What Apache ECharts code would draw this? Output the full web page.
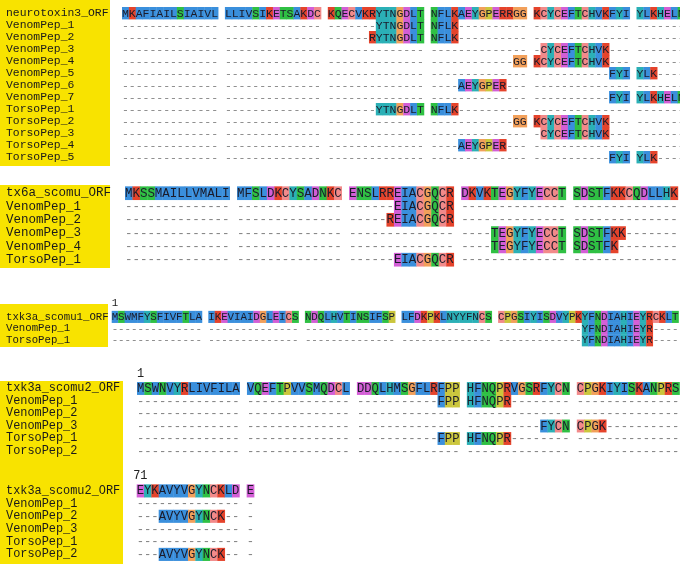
<!DOCTYPE html>
<html>
<head>
<meta charset="utf-8">
<script src="https://cdn.jsdelivr.net/npm/echarts@6/dist/echarts.min.js"></script>
<style>html,body{margin:0;padding:0;background:#fff}#c{width:680px;height:564px}</style>
</head>
<body>
<div id="c"></div>
<script>
// ---------------- DATA ----------------
const b1Names = ['neurotoxin3_ORF','VenomPep_1','VenomPep_2','VenomPep_3','VenomPep_4','VenomPep_5','VenomPep_6','VenomPep_7','TorsoPep_1','TorsoPep_2','TorsoPep_3','TorsoPep_4','TorsoPep_5'];
const b1Rows = [
  'MKAFIAILSIAIVL LLIVSIKETSAKDC KQECVKRYTNGDLT NFLKAEYGPERRGG KCYCEFTCHVKFYI YLKHELN',
  '-------------- -------------- -------YTNGDLT NFLK---------- -------------- -------',
  '-------------- -------------- ------RYTNGDLT NFLK---------- -------------- -------',
  '-------------- -------------- -------------- -------------- -CYCEFTCHVK--- -------',
  '-------------- -------------- -------------- ------------GG KCYCEFTCHVK--- -------',
  '-------------- -------------- -------------- -------------- -----------FYI YLK----',
  '-------------- -------------- -------------- ----AEYGPER--- -------------- -------',
  '-------------- -------------- -------------- -------------- -----------FYI YLKHELN',
  '-------------- -------------- -------YTNGDLT NFLK---------- -------------- -------',
  '-------------- -------------- -------------- ------------GG KCYCEFTCHVK--- -------',
  '-------------- -------------- -------------- -------------- -CYCEFTCHVK--- -------',
  '-------------- -------------- -------------- ----AEYGPER--- -------------- -------',
  '-------------- -------------- -------------- -------------- -----------FYI YLK----'
];
const b2Names = ['tx6a_scomu_ORF','VenomPep_1','VenomPep_2','VenomPep_3','VenomPep_4','TorsoPep_1'];
const b2Rows = [
  'MKSSMAILLVMALI MFSLDKCYSADNKC ENSLRREIACGQCR DKVKTEGYFYECCT SDSTFKKCQDLLHK',
  '-------------- -------------- ------EIACGQCR -------------- --------------',
  '-------------- -------------- -----REIACGQCR -------------- --------------',
  '-------------- -------------- -------------- ----TEGYFYECCT SDSTFKK-------',
  '-------------- -------------- -------------- ----TEGYFYECCT SDSTFK--------',
  '-------------- -------------- ------EIACGQCR -------------- --------------'
];
const b3Names = ['txk3a_scomu1_ORF','VenomPep_1','TorsoPep_1'];
const b3Rows = [
  'MSWMFYSFIVFTLA IKEVIAIDGLEICS NDQLHVTINSIFSP LFDKPKLNYYFNCS CPGSIYISDVYPKYFNDIAHIEYRCKLT',
  '-------------- -------------- -------------- -------------- -------------YFNDIAHIEYR----',
  '-------------- -------------- -------------- -------------- -------------YFNDIAHIEYR----'
];
const b4Names = ['txk3a_scomu2_ORF','VenomPep_1','VenomPep_2','VenomPep_3','TorsoPep_1','TorsoPep_2'];
const b4Rows = [
  'MSWNVYRLIVFILA VQEFTPVVSMQDCL DDQLHMSGFLRFPP HFNQPRVGSRFYCN CPGKIYISKANPRS',
  '-------------- -------------- -----------FPP HFNQPR-------- --------------',
  '-------------- -------------- -------------- -------------- --------------',
  '-------------- -------------- -------------- ----------FYCN CPGK----------',
  '-------------- -------------- -----------FPP HFNQPR-------- --------------',
  '-------------- -------------- -------------- -------------- --------------'
];
const b5Names = ['txk3a_scomu2_ORF','VenomPep_1','VenomPep_2','VenomPep_3','TorsoPep_1','TorsoPep_2'];
const b5Rows = [
  'EYKAVYVGYNCKLD E',
  '-------------- -',
  '---AVYVGYNCK-- -',
  '-------------- -',
  '-------------- -',
  '---AVYVGYNCK-- -'
];
// position number printed above the first column of a block (null = none)
const startNumbers = [null, null, '1', '1', '71'];
// residue colour classes (Clustal-like)
const residueClass = {A:'b',I:'b',L:'b',M:'b',F:'b',W:'b',V:'b',K:'r',R:'r',D:'m',E:'m',N:'g',Q:'g',S:'g',T:'g',C:'p',G:'o',P:'y',H:'c',Y:'c'};
// column-specific colour exceptions seen in the figure: [block, column, class]
const columnOverrides = [[0,38,'c'],[0,39,'c'],[2,52,'c'],[2,55,'c'],[2,56,'c'],[4,5,'b']];

// ---------------- STYLE / LAYOUT ----------------
const COLORS = {b:'#3a8fdc', r:'#e5432b', m:'#d35ed6', g:'#2fc043', p:'#f28a8a', o:'#f2a05a', y:'#cbc63c', c:'#2bb0b6'};
const FONT = '"Liberation Mono","DejaVu Sans Mono",monospace';
const YELLOW = '#f8e300';
const layout = [
  {left:122,  cw:6.86, y0:13.0,  rh:12.0, fs:11.5, lfs:11.4},
  {left:125,  cw:7.47, y0:193.0, rh:13.3, fs:12.5, lfs:12.5},
  {left:111.7,cw:6.44, y0:316.7, rh:11.7, fs:10.8, lfs:10.7},
  {left:137,  cw:7.33, y0:388.3, rh:12.5, fs:12.2, lfs:11.9},
  {left:136.7,cw:7.33, y0:490.7, rh:12.7, fs:12.2, lfs:11.9}
];
const boxes = [[0,0,110,166],[0,185,110,83],[0,304,108,43],[0,381,123,183]];

const blockNames = [b1Names,b2Names,b3Names,b4Names,b5Names];
const blockRows = [b1Rows,b2Rows,b3Rows,b4Rows,b5Rows];

const grids = [], xAxes = [], yAxes = [], series = [];
blockRows.forEach((rows, bi) => {
  const L = layout[bi];
  const nCols = Math.max(...rows.map(r => r.length));
  const nRows = rows.length;
  grids.push({left:L.left, top:L.y0 - L.rh/2, width:nCols*L.cw, height:nRows*L.rh, outerBoundsMode:'none', containLabel:false});
  const cols = Array.from({length:nCols}, (_, i) => String(i));
  const sn = startNumbers[bi];
  xAxes.push({type:'category', gridIndex:bi, data:cols, position:'top', boundaryGap:true,
    axisLine:{show:false}, axisTick:{show:false}, splitLine:{show:false},
    axisLabel:{show: sn !== null, interval:0, margin:2, fontFamily:FONT, fontSize:L.lfs, color:'#222',
      formatter:(v, i) => (i === 0 && sn !== null) ? sn : ''}});
  yAxes.push({type:'category', gridIndex:bi, data:blockNames[bi], inverse:true,
    axisLine:{show:false}, axisTick:{show:false}, splitLine:{show:false},
    axisLabel:{interval:0, align:'left', margin:L.left - 6, fontFamily:FONT, fontSize:L.lfs, color:'#1a1a1a'}});
  const data = [], chars = [], cls = [];
  rows.forEach((r, ri) => {
    for (let ci = 0; ci < r.length; ci++) {
      const ch = r[ci];
      if (ch === ' ') continue;
      let k = residueClass[ch] || null;
      columnOverrides.forEach(o => { if (o[0] === bi && o[1] === ci && ch !== '-') k = o[2]; });
      data.push([ci, ri]); chars.push(ch); cls.push(k);
    }
  });
  series.push({type:'custom', xAxisIndex:bi, yAxisIndex:bi, data:data, silent:true, clip:false,
    renderItem:(params, api) => {
      const p = api.coord([api.value(0), api.value(1)]);
      const s = api.size([1, 1]);
      const ch = chars[params.dataIndex];
      const k = cls[params.dataIndex];
      const children = [];
      if (ch !== '-' && k) {
        children.push({type:'rect', shape:{x:p[0]-s[0]/2, y:p[1]-s[1]/2, width:s[0]+0.4, height:s[1]+0.4},
          style:{fill:COLORS[k]}});
      }
      children.push({type:'text', style:{text:ch, x:p[0], y:p[1]+0.5, align:'center', verticalAlign:'middle',
        fontFamily:FONT, fontSize:L.fs, fill: ch === '-' ? '#808080' : '#1b1b2a'}});
      return {type:'group', children:children};
    }});
});

const chart = echarts.init(document.getElementById('c'), null, {renderer:'canvas'});
chart.setOption({
  animation:false,
  backgroundColor:'#ffffff',
  graphic: boxes.map(b => ({type:'rect', z:-10, silent:true, shape:{x:b[0], y:b[1], width:b[2], height:b[3]}, style:{fill:YELLOW}})),
  grid:grids, xAxis:xAxes, yAxis:yAxes, series:series
});
</script>
</body>
</html>
